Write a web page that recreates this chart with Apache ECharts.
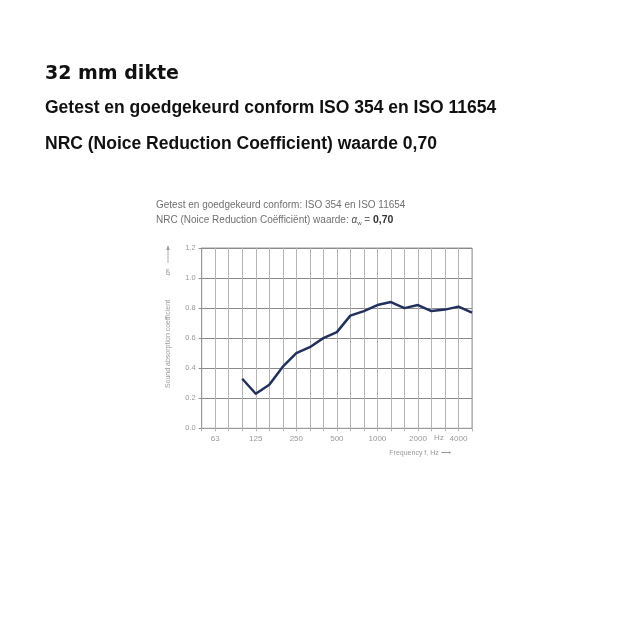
<!DOCTYPE html>
<html>
<head>
<meta charset="utf-8">
<script src="https://cdn.jsdelivr.net/npm/echarts@6/dist/echarts.min.js"></script>
<style>
html,body{margin:0;padding:0;background:#fff;}
#chart{width:640px;height:640px;}
</style>
</head>
<body>
<div id="chart"></div>
<script>
// Third-octave band centre frequencies (Hz)
const frequencies = ['50','63','80','100','125','160','200','250','315','400','500','630','800','1000','1250','1600','2000','2500','3150','4000','5000'];
// Frequencies that carry a tick label
const labelledFrequencies = ['63','125','250','500','1000','2000','4000'];
// Sound absorption coefficient per band (null = not measured)
const absorption = [null,null,null,0.33,0.23,0.29,0.41,0.50,0.54,0.60,0.64,0.75,0.78,0.82,0.84,0.80,0.82,0.78,0.79,0.81,0.77];
// Y tick values
const yTicks = [0.0,0.2,0.4,0.6,0.8,1.0,1.2];

const chart = echarts.init(document.getElementById('chart'), null, {renderer:'canvas'});

const option = {
  backgroundColor: '#ffffff',
  animation: false,
  title: [
    {text:'32 mm dikte', left:45, top:64.5, padding:0,
     textStyle:{fontFamily:'DejaVu Sans', fontWeight:'bold', fontSize:19, color:'#111'}},
    {text:'Getest en goedgekeurd conform ISO 354 en ISO 11654', left:45, top:99, padding:0,
     textStyle:{fontFamily:'Liberation Sans', fontWeight:'bold', fontSize:17.5, color:'#111'}},
    {text:'NRC (Noice Reduction Coefficient) waarde 0,70', left:45, top:135.5, padding:0,
     textStyle:{fontFamily:'Liberation Sans', fontWeight:'bold', fontSize:17.5, color:'#111'}}
  ],
  graphic: [
    {type:'text', left:156, top:200.5,
     style:{text:'Getest en goedgekeurd conform: ISO 354 en ISO 11654', fontFamily:'Liberation Sans', fontSize:10, fill:'#707070'}},
    {type:'text', left:156, top:214.5,
     style:{text:'{n|NRC (Noice Reduction Coëfficiënt) waarde: }{a|α}{s|w}{n| = }{b|0,70}',
       fontFamily:'Liberation Sans', fontSize:10, fill:'#707070',
       rich:{
         n:{fontFamily:'Liberation Sans', fontSize:10, fill:'#707070'},
         a:{fontFamily:'Liberation Sans', fontSize:10, fontStyle:'italic', fill:'#555'},
         s:{fontFamily:'Liberation Sans', fontSize:6, fill:'#555', padding:[6,0,0,0]},
         b:{fontFamily:'Liberation Sans', fontSize:10.5, fontWeight:'bold', fill:'#333'}
       }}},
    {type:'text', x:168, y:344, rotation:Math.PI/2,
     style:{text:'Sound absorption coefficient', fontFamily:'Liberation Sans', fontSize:7, fill:'#999', align:'center', verticalAlign:'middle'}},
    {type:'text', x:168, y:272, rotation:Math.PI/2,
     style:{text:'{a|α}{s|s}', align:'center', verticalAlign:'middle',
       rich:{a:{fontFamily:'Liberation Sans', fontSize:8, fontStyle:'italic', fill:'#999'},
             s:{fontFamily:'Liberation Sans', fontSize:5, fill:'#999'}}}},
    {type:'line', shape:{x1:168, y1:263, x2:168, y2:247}, style:{stroke:'#999', lineWidth:0.8}},
    {type:'polygon', shape:{points:[[166.3,250],[169.7,250],[168,245]]}, style:{fill:'#999'}},
    {type:'text', x:439, y:438,
     style:{text:'Hz', fontFamily:'Liberation Sans', fontSize:8, fill:'#999', align:'center', verticalAlign:'middle'}},
    {type:'text', x:420, y:453,
     style:{text:'Frequency f, Hz ⟶', fontFamily:'Liberation Sans', fontSize:7, fill:'#999', align:'center', verticalAlign:'middle'}}
  ],
  grid: {left:201.7, right:168, top:248, bottom:211.7, show:true, borderColor:'#9a9a9a', borderWidth:1},
  xAxis: {
    type:'category', data:frequencies, boundaryGap:false,
    axisLine:{show:true, lineStyle:{color:'#9a9a9a', width:1}},
    axisTick:{show:true, length:3, interval:0, lineStyle:{color:'#b5b5b5'}},
    axisLabel:{
      interval:0, margin:6, fontFamily:'Liberation Sans', fontSize:8, color:'#999',
      formatter: v => labelledFrequencies.includes(v) ? v : ''
    },
    splitLine:{show:true, interval:0, lineStyle:{color:'#b5b5b5', width:1}}
  },
  yAxis: {
    type:'value', min:yTicks[0], max:yTicks[yTicks.length-1], interval:0.2,
    axisLine:{show:true, lineStyle:{color:'#9a9a9a', width:1}},
    axisTick:{show:true, length:3, lineStyle:{color:'#8a8a8a'}},
    axisLabel:{margin:6, fontFamily:'Liberation Sans', fontSize:7.5, color:'#999',
      formatter: v => v.toFixed(1)},
    splitLine:{show:true, lineStyle:{color:'#8a8a8a', width:1}}
  },
  series: [{
    type:'line', data:absorption, showSymbol:false, symbol:'none', connectNulls:false,
    lineStyle:{color:'#22305e', width:2.5, join:'round'},
    itemStyle:{color:'#22305e'}
  }]
};
chart.setOption(option);
</script>
</body>
</html>
